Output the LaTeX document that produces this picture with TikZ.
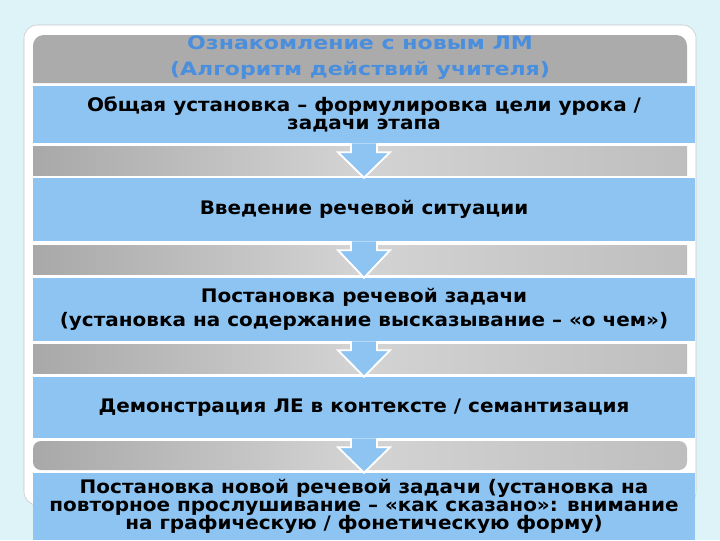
\documentclass[tikz,border=0pt]{standalone}
\usepackage{fontspec}
\setmainfont{DejaVu Sans}[FakeStretch=1.07]
\newfontfamily\headfont{DejaVu Sans}[FakeStretch=1.2]
\usetikzlibrary{calc}

\definecolor{SlideBack}{RGB}{221,243,248}
\definecolor{StageBlue}{RGB}{142,196,242}
\definecolor{TitleBlue}{RGB}{74,142,222}
\colorlet{BarDark}{black!34}
\colorlet{BarLight}{black!17}
\colorlet{HeadGray}{black!33}

\tikzset{
  stage/.style={fill=StageBlue, minimum width=496.5pt, inner sep=0pt,
    align=center, font=\bfseries\fontsize{14}{17}\selectfont},
  bar/.style={minimum width=490.5pt, minimum height=21.75pt, inner sep=0pt,
    left color=BarDark, right color=BarDark!75, middle color=BarLight},
  flow/.style={fill=StageBlue, draw=white, line width=1.4pt, line join=miter},
}

\begin{document}
\begin{tikzpicture}[x=0.75pt, y=-0.75pt]

\useasboundingbox[fill=SlideBack] (0,0) rectangle (720,540);

% Rahmen und Kopf
\draw[draw=black!22, fill=white, rounded corners=10pt] (24,25) rectangle (696,505);
\fill[HeadGray] (33,83) [rounded corners=8pt] -- (33,35) -- (687,35)
  [sharp corners] -- (687,83) -- cycle;
\node[font=\headfont\bfseries\fontsize{13.8}{19.3}\selectfont, text=TitleBlue,
  align=center] (head) at (360,58)
  {Ознакомление с новым ЛМ\\(Алгоритм действий учителя)};

% Zwischenbalken
\node[bar] (g1) at (360,160.5) {};
\node[bar] (g2) at (360,259.5) {};
\node[bar] (g3) at (360,358.5) {};
\node[bar, shape=rectangle, rounded corners=6pt] (g4) at (360,455.5) {};

% Schritte
\node[stage, minimum height=42.75pt, font=\bfseries\fontsize{14}{13.5}\selectfont]
  (s1) at (364,114.5)
  {\raisebox{1.5pt}{\parbox{496.5pt}{\centering Общая установка – формулировка цели урока /\\задачи этапа}}};
\node[stage, minimum height=47.25pt] (s2) at (364,209.5)
  {\raisebox{-1.5pt}{Введение речевой ситуации}};
\node[stage, minimum height=47.25pt, font=\bfseries\fontsize{14}{17.5}\selectfont]
  (s3) at (364,309.5)
  {Постановка речевой задачи\\(установка на содержание высказывание – «о чем»)};
\node[stage, minimum height=45.75pt] (s4) at (364,407.5)
  {\raisebox{-1.5pt}{Демонстрация ЛЕ в контексте / семантизация}};
\node[stage, minimum height=50.25pt, font=\bfseries\fontsize{14}{13.7}\selectfont]
  (s5) at (364,506.5)
  {\raisebox{-1pt}{\parbox{496.5pt}{\centering Постановка новой речевой задачи (установка на\\повторное прослушивание – «как сказано»: внимание\\на графическую / фонетическую форму)}}};

% Pfeile zwischen den Schritten
\foreach \a/\b in {s1/s2, s2/s3, s3/s4, s4/s5}
  \draw[flow] let \p1=(\a.south), \p2=(\b.north) in
    (\x1-9.75pt,\y1) -- (\x1-9.75pt,\y1-6.75pt) -- (\x1-19.5pt,\y1-6.75pt)
    -- (\x1,\y2) -- (\x1+19.5pt,\y1-6.75pt) -- (\x1+9.75pt,\y1-6.75pt)
    -- (\x1+9.75pt,\y1);

\end{tikzpicture}
\end{document}
